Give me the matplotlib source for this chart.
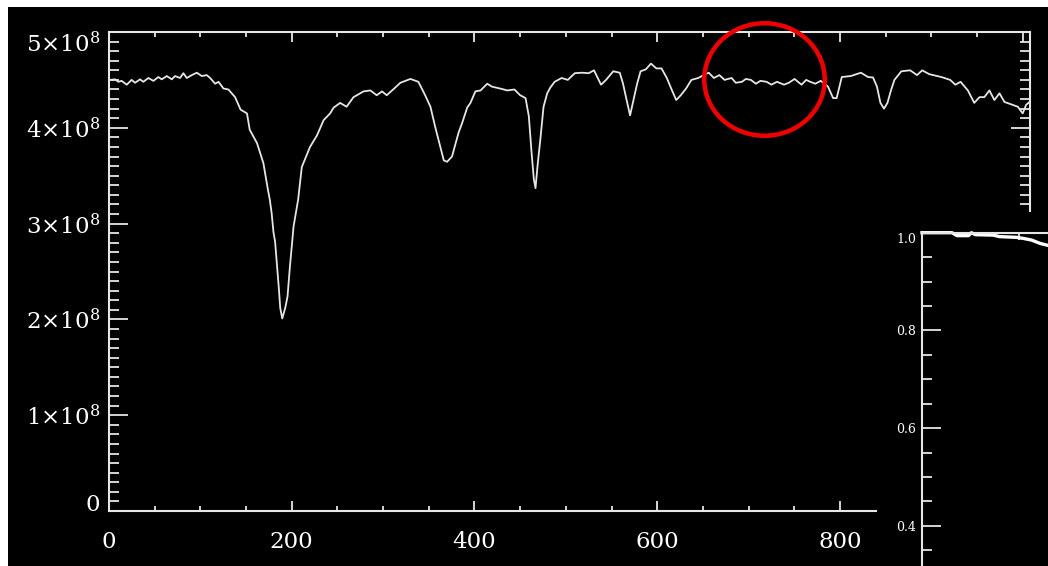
import matplotlib
matplotlib.use('Agg')
import matplotlib.pyplot as plt
from matplotlib.patches import Ellipse, Rectangle
from matplotlib.ticker import MultipleLocator, FixedLocator

# ---------------- data ----------------
wave = [1.1, 6.6, 10.2, 13.9, 19.4, 24.8, 28.5, 34, 37.6, 43.1, 48.6, 54, 57.7, 63.2, 68.7,
        72.3, 77.8, 81.4, 85.1, 90.6, 96.1, 101.6, 107, 110.7, 116.2, 119.8, 125.3, 130.7,
        138, 144, 151, 154, 162, 169, 174, 176, 178, 180, 181.8, 184, 186, 187.4, 189.6,
        192.9, 195.4, 198, 200, 202, 205, 207, 211, 220, 227.6, 234.9, 242, 245.8, 253,
        260, 267.6, 278.6, 286, 293, 298.8, 304, 311, 318.9, 329.9, 338.6, 346, 351.8, 357,
        362.7, 366.4, 370, 375.4, 382.6, 386.5, 392, 395.6, 401, 406.6, 414, 419, 428, 436,
        443.7, 450, 455.9, 459.5, 462.5, 465, 466.8, 469.3, 472, 475.6, 479.6, 483, 487.7,
        495.4, 502.1, 509.8, 517.5, 525, 530.8, 538.5, 544, 551.9, 559, 562.6, 566.5, 570.3,
        574, 578, 581.8, 587.5, 593.2, 599, 604.7, 610.5, 616.2, 620.8, 625.8, 631.6, 637.4,
        645, 650.7, 656.4, 662, 668, 673.7, 681.4, 686, 692.7, 697, 702.5, 708, 713, 719.7,
        725, 731, 738.8, 744, 750.4, 754, 758, 763, 767.5, 773, 779, 786.9, 792.5, 796.4,
        802, 811.7, 823, 830.7, 836.2, 840.5, 844.3, 848.2, 852, 855.8, 859.6, 867.2, 876.8,
        884.4, 890, 897.7, 911, 920.6, 926.3, 932, 940, 947, 952.7, 958, 963.6, 969, 974.6,
        980, 989, 994.7, 1000, 1003.8, 1007.5]
flux_e8 = [4.50, 4.506, 4.48, 4.49, 4.45, 4.50, 4.47, 4.506, 4.48, 4.52, 4.49, 4.53, 4.506,
           4.54, 4.506, 4.54, 4.52, 4.57, 4.52, 4.55, 4.575, 4.54, 4.55, 4.52, 4.46, 4.48,
           4.41, 4.40, 4.32, 4.19, 4.15, 3.98, 3.84, 3.63, 3.35, 3.25, 3.11, 2.91, 2.81, 2.55,
           2.31, 2.12, 2.01, 2.12, 2.24, 2.55, 2.76, 2.97, 3.14, 3.25, 3.59, 3.80, 3.92, 4.08,
           4.15, 4.21, 4.26, 4.22, 4.32, 4.38, 4.39, 4.34, 4.38, 4.34, 4.40, 4.47, 4.51, 4.48,
           4.34, 4.22, 4.01, 3.80, 3.66, 3.645, 3.70, 3.95, 4.05, 4.21, 4.26, 4.38, 4.39, 4.46,
           4.43, 4.41, 4.39, 4.40, 4.34, 4.31, 4.12, 3.74, 3.46, 3.37, 3.63, 3.87, 4.22, 4.36,
           4.42, 4.48, 4.52, 4.50, 4.57, 4.575, 4.57, 4.60, 4.45, 4.50, 4.59, 4.575, 4.46,
           4.29, 4.13, 4.29, 4.46, 4.59, 4.61, 4.67, 4.62, 4.62, 4.52, 4.39, 4.29, 4.34, 4.41,
           4.50, 4.52, 4.55, 4.575, 4.52, 4.55, 4.50, 4.52, 4.47, 4.48, 4.51, 4.50, 4.46, 4.49,
           4.48, 4.45, 4.48, 4.45, 4.47, 4.51, 4.48, 4.45, 4.50, 4.48, 4.46, 4.49, 4.43, 4.31,
           4.31, 4.53, 4.54, 4.575, 4.53, 4.525, 4.43, 4.26, 4.20, 4.26, 4.39, 4.50, 4.59,
           4.60, 4.55, 4.60, 4.56, 4.53, 4.50, 4.45, 4.48, 4.39, 4.26, 4.32, 4.32, 4.39, 4.29,
           4.36, 4.27, 4.24, 4.22, 4.15, 4.24, 4.27]

y_ticks_e8 = [0, 1, 2, 3, 4, 5]
y_ticklabels = ['0', r'$1{\times}10^{8}$', r'$2{\times}10^{8}$', r'$3{\times}10^{8}$',
                r'$4{\times}10^{8}$', r'$5{\times}10^{8}$']
x_ticks = [0, 200, 400, 600, 800]
x_ticklabels = ['0', '200', '400', '600', '800']

inset_x = [0, 0.31, 0.36, 0.48, 0.51, 0.55, 0.735, 0.80, 0.975, 1.04, 1.13, 1.22, 1.30]
inset_y = [1.0, 1.0, 0.994, 0.994, 1.0, 0.996, 0.995, 0.992, 0.9905, 0.9885, 0.985, 0.978, 0.974]
inset_yticks = [0.4, 0.6, 0.8, 1.0]
inset_yticklabels = ['0.4', '0.6', '0.8', '1.0']

# ---------------- styling ----------------
plt.rcParams['font.family'] = ['DejaVu Serif']
plt.rcParams['mathtext.fontset'] = 'dejavuserif'

W, H = 1048, 566
PT = 0.72  # points per pixel at dpi 100
FG = '#e6e6e6'


def box(l, t, r, b):
    return [l / W, 1 - b / H, (r - l) / W, (b - t) / H]


fig = plt.figure(figsize=(W / 100, H / 100), dpi=100, facecolor='white')
fig.add_artist(Rectangle((8 / W, 0), 1 - 8 / W, 1 - 7 / H, transform=fig.transFigure,
                         facecolor='black', edgecolor='none', zorder=0))

# ---------------- main axes ----------------
ax = fig.add_axes(box(109, 32, 1030, 511), zorder=1)
ax.set_facecolor('black')
ax.plot(wave, [v * 1e8 for v in flux_e8], color=FG, lw=1.3)
ax.set_xlim(0, 1008)
ax.set_ylim(0, 5e8)
for s in ax.spines.values():
    s.set_color(FG)
    s.set_linewidth(1.5)

ax.xaxis.set_major_locator(FixedLocator(x_ticks + [1000]))
ax.set_xticklabels(x_ticklabels + [''])
ax.xaxis.set_minor_locator(MultipleLocator(50))
ax.yaxis.set_major_locator(FixedLocator([v * 1e8 for v in y_ticks_e8]))
ax.set_yticklabels(y_ticklabels)
ax.yaxis.set_minor_locator(MultipleLocator(1e7))

ax.tick_params(axis='x', which='major', direction='in', length=10 * PT, width=1.3,
               top=True, bottom=True, color=FG, labelcolor='white', labelsize=16.5,
               pad=20 * PT)
ax.tick_params(axis='x', which='minor', direction='in', length=5 * PT, width=1.3,
               top=True, bottom=True, color=FG)
ax.tick_params(axis='y', which='major', direction='in', length=19 * PT, width=1.3,
               left=True, right=True, color=FG, labelcolor='white', labelsize=16.5,
               pad=9 * PT)
ax.tick_params(axis='y', which='minor', direction='in', length=10 * PT, width=1.3,
               left=True, right=True, color=FG)

ylabs = ax.get_yticklabels()
ylabs[0].set_va('baseline')
ylabs[-1].set_va('top')

# ---------------- inset (overlaid screenshot) ----------------
bg = fig.add_axes(box(877, 212, 1048, 566), zorder=3)
bg.set_facecolor('black')
bg.set_axis_off()
bg.add_patch(Rectangle((0, 0), 1, 1, transform=bg.transAxes, facecolor='black',
                       edgecolor='none'))

ia = fig.add_axes(box(922, 232.7, 1048, 566), zorder=4)
ia.set_facecolor('none')
ia.plot(inset_x, inset_y, color='white', lw=2.4, clip_on=False)
ia.set_xlim(0, 1.30)
ia.set_ylim(0.318, 1.0)
ia.spines['right'].set_visible(False)
ia.spines['bottom'].set_visible(False)
for k in ('left', 'top'):
    ia.spines[k].set_color(FG)
    ia.spines[k].set_linewidth(1.5)
ia.xaxis.set_major_locator(FixedLocator([1.0]))
ia.tick_params(axis='x', which='major', direction='in', length=7 * PT, width=1.3,
               top=True, bottom=False, labeltop=False, labelbottom=False, color=FG)
ia.yaxis.set_major_locator(FixedLocator(inset_yticks))
ia.set_yticklabels(inset_yticklabels)
ia.yaxis.set_minor_locator(MultipleLocator(0.05))
ia.tick_params(axis='y', which='major', direction='in', length=19 * PT, width=1.3,
               left=True, right=False, color=FG, labelcolor='white', labelsize=9,
               pad=6 * PT)
ia.tick_params(axis='y', which='minor', direction='in', length=10 * PT, width=1.3,
               left=True, right=False, color=FG)
ia.get_yticklabels()[-1].set_va('top')

# ---------------- red highlight circle ----------------
fig.add_artist(Ellipse((764.5 / W, 1 - 79.5 / H), 120.5 / W, 112.5 / H,
                       transform=fig.transFigure, fill=False, edgecolor='#ee0000',
                       lw=4.5 * PT, zorder=10))

fig.savefig('out.png', dpi=100, facecolor=fig.get_facecolor())
